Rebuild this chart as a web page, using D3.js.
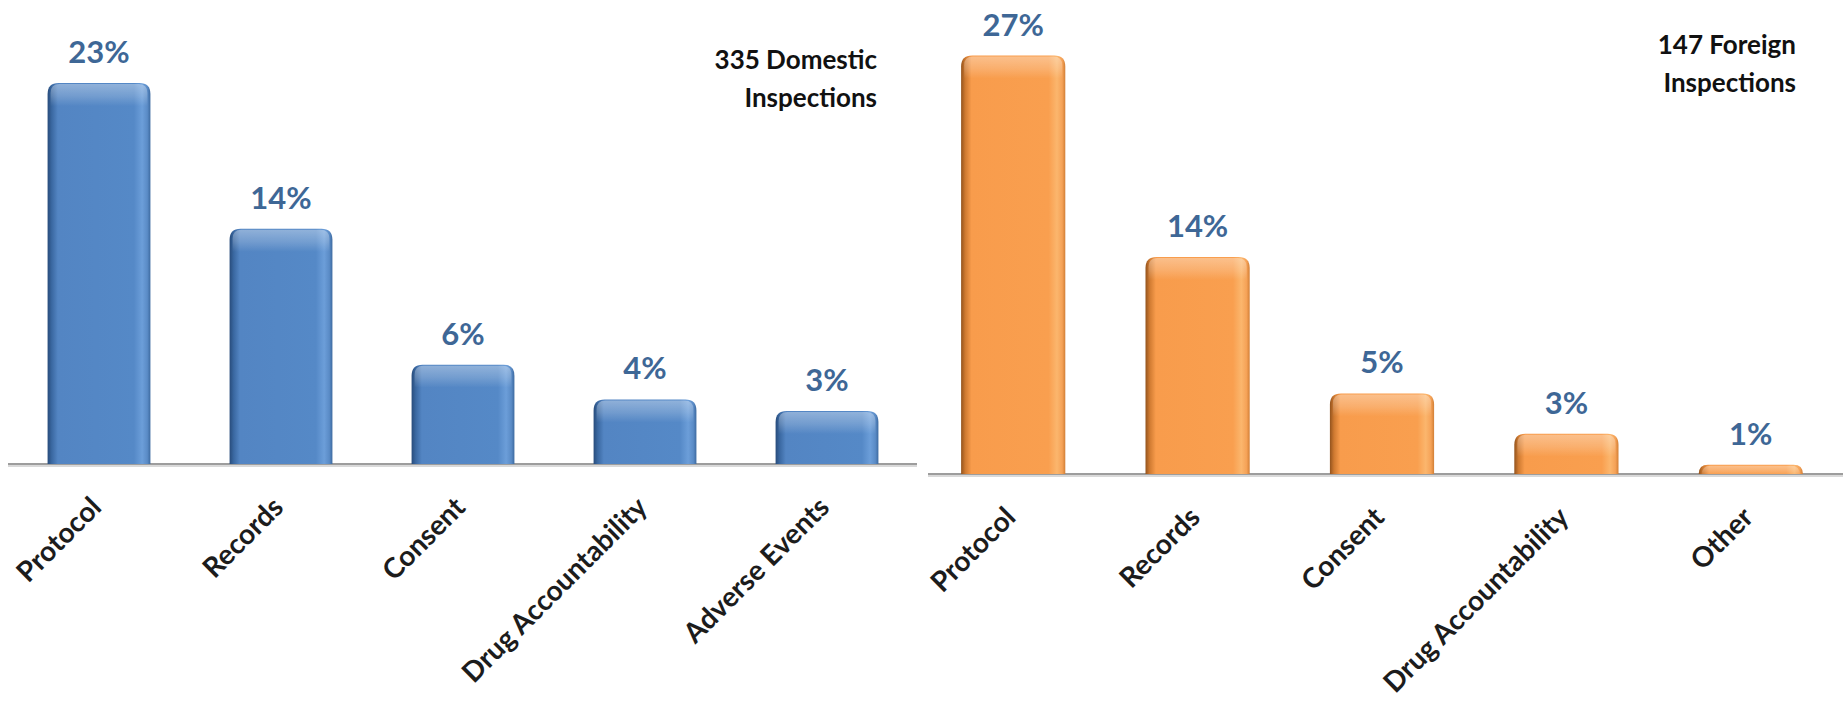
<!DOCTYPE html>
<html>
<head>
<meta charset="utf-8">
<script src="https://cdn.jsdelivr.net/npm/d3@7"></script>
<style>
  body { margin: 0; padding: 0; background: #ffffff; overflow: hidden; }
  text { font-family: Lato, "Open Sans", sans-serif; font-weight: bold; }
</style>
</head>
<body>
<div id="chart"></div>
<script>
const width = 1843;
const height = 706;

// domestic inspections (left panel)
const domesticCategories = ["Protocol", "Records", "Consent", "Drug Accountability", "Adverse Events"];
const domesticValues = [0.23, 0.142, 0.06, 0.039, 0.032];
const domesticTitle = ["335 Domestic", "Inspections"];

// foreign inspections (right panel)
const foreignCategories = ["Protocol", "Records", "Consent", "Drug Accountability", "Other"];
const foreignValues = [0.27, 0.14, 0.052, 0.026, 0.006];
const foreignTitle = ["147 Foreign", "Inspections"];

const pct = d3.format(".0%");

const svg = d3
  .select("#chart")
  .append("svg")
  .attr("width", width)
  .attr("height", height)
  .style("display", "block");

const defs = svg.append("defs");

// side shading of the bevelled bars
function sideGradient(id, stops) {
  const g = defs
    .append("linearGradient")
    .attr("id", id)
    .attr("x1", "0%")
    .attr("x2", "100%")
    .attr("y1", "0%")
    .attr("y2", "0%");
  stops.forEach((s) => {
    g.append("stop").attr("offset", s[0]).attr("stop-color", s[1]);
  });
}

sideGradient("blueSide", [
  ["0%", "#284c7b"],
  ["4%", "#3a68a1"],
  ["10%", "#5385c3"],
  ["84%", "#5589c7"],
  ["92%", "#6c9ed9"],
  ["97%", "#5a8bc6"],
  ["100%", "#3d6aa0"],
]);

sideGradient("orangeSide", [
  ["0%", "#93531d"],
  ["4%", "#cf7a31"],
  ["10%", "#f89c4c"],
  ["84%", "#f99f4f"],
  ["92%", "#fbb66d"],
  ["97%", "#f5a257"],
  ["100%", "#d27f36"],
]);

const topShine = defs
  .append("linearGradient")
  .attr("id", "topShine")
  .attr("x1", "0%")
  .attr("x2", "0%")
  .attr("y1", "0%")
  .attr("y2", "100%");
topShine.append("stop").attr("offset", "0%").attr("stop-color", "#ffffff").attr("stop-opacity", 0.35);
topShine.append("stop").attr("offset", "55%").attr("stop-color", "#ffffff").attr("stop-opacity", 0.18);
topShine.append("stop").attr("offset", "100%").attr("stop-color", "#ffffff").attr("stop-opacity", 0);

// bar outline with rounded top corners only
function barPath(x, y, w, h, r) {
  const rr = Math.min(r, h, w / 2);
  const p = d3.path();
  p.moveTo(x, y + h);
  p.lineTo(x, y + rr);
  p.quadraticCurveTo(x, y, x + rr, y);
  p.lineTo(x + w - rr, y);
  p.quadraticCurveTo(x + w, y, x + w, y + rr);
  p.lineTo(x + w, y + h);
  p.closePath();
  return p.toString();
}

function panel(opts) {
  const x = d3
    .scaleBand()
    .domain(opts.categories)
    .range(opts.xRange)
    .paddingInner(0.435)
    .paddingOuter(0.2175);

  const y = d3.scaleLinear().domain(opts.yDomain).range([opts.baseline, opts.yTop]);

  const g = svg.append("g");
  const rows = opts.categories.map((c, i) => ({ cat: c, value: opts.values[i] }));

  // axis line with soft shadow
  g.append("line")
    .attr("x1", opts.axisX[0])
    .attr("x2", opts.axisX[1])
    .attr("y1", opts.baseline + 2)
    .attr("y2", opts.baseline + 2)
    .attr("stroke", "#d9d9d9")
    .attr("stroke-width", 2);
  g.append("line")
    .attr("x1", opts.axisX[0])
    .attr("x2", opts.axisX[1])
    .attr("y1", opts.baseline)
    .attr("y2", opts.baseline)
    .attr("stroke", "#9d9d9d")
    .attr("stroke-width", 2);

  // bars
  g.selectAll(".bar")
    .data(rows)
    .enter()
    .append("path")
    .attr("class", "bar")
    .attr("d", (d) => barPath(x(d.cat), y(d.value), x.bandwidth(), opts.baseline - y(d.value), 11))
    .attr("fill", "url(#" + opts.gradient + ")");

  // highlight band along the top of each bar
  g.selectAll(".shine")
    .data(rows)
    .enter()
    .append("path")
    .attr("class", "shine")
    .attr("d", (d) => {
      const h = Math.min(22, opts.baseline - y(d.value));
      return barPath(x(d.cat) + 3, y(d.value) + 1, x.bandwidth() - 6, h, 9);
    })
    .attr("fill", "url(#topShine)");

  // value labels
  g.selectAll(".value")
    .data(rows)
    .enter()
    .append("text")
    .attr("class", "value")
    .attr("x", (d) => x(d.cat) + x.bandwidth() / 2)
    .attr("y", (d) => y(d.value) - 20)
    .attr("text-anchor", "middle")
    .style("font-size", "31px")
    .style("fill", "#3e6796")
    .text((d) => pct(d.value));

  // rotated category labels
  g.selectAll(".cat")
    .data(rows)
    .enter()
    .append("text")
    .attr("class", "cat")
    .attr("transform", (d) => {
      const cx = x(d.cat) + x.bandwidth() / 2 + 4;
      return "translate(" + cx + "," + (opts.baseline + 45) + ") rotate(-45)";
    })
    .attr("text-anchor", "end")
    .style("font-size", "28px")
    .style("fill", "#1c1c1c")
    .text((d) => d.cat);

  // panel title, top right
  g.selectAll(".title")
    .data(opts.title)
    .enter()
    .append("text")
    .attr("class", "title")
    .attr("x", opts.titleX)
    .attr("y", (d, i) => opts.titleY + i * 38)
    .attr("text-anchor", "end")
    .style("font-size", "26px")
    .style("fill", "#111111")
    .text((d) => d);
}

panel({
  categories: domesticCategories,
  values: domesticValues,
  title: domesticTitle,
  xRange: [8, 918],
  axisX: [8, 917],
  baseline: 464,
  yDomain: [0, 0.25],
  yTop: 50,
  gradient: "blueSide",
  titleX: 877,
  titleY: 69,
});

panel({
  categories: foreignCategories,
  values: foreignValues,
  title: foreignTitle,
  xRange: [921, 1843],
  axisX: [928, 1843],
  baseline: 474,
  yDomain: [0, 0.3],
  yTop: 9,
  gradient: "orangeSide",
  titleX: 1796,
  titleY: 54,
});
</script>
</body>
</html>
